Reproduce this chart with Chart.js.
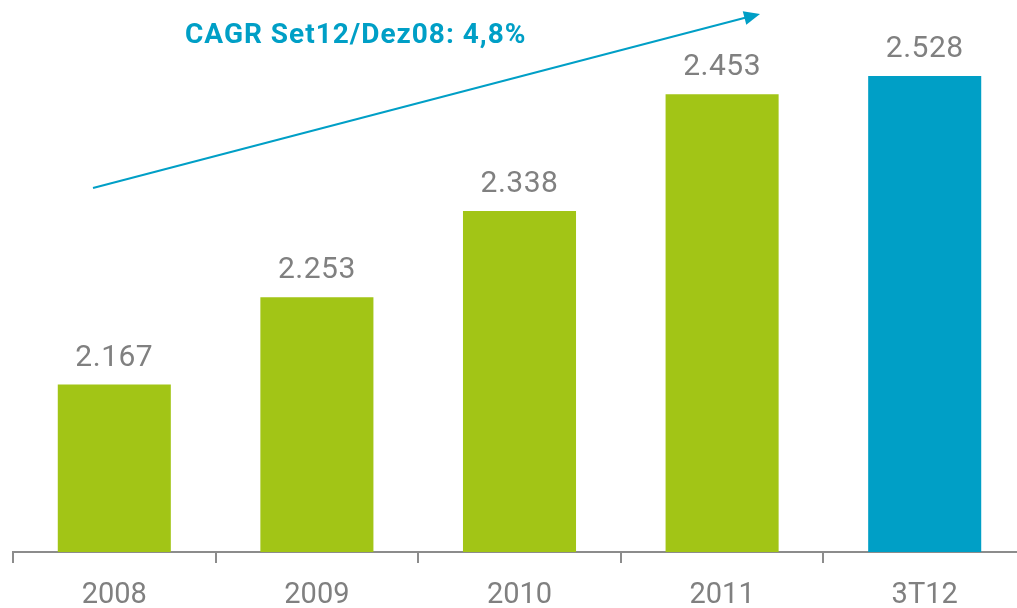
<!DOCTYPE html>
<html>
<head>
<meta charset="utf-8">
<script src="https://cdn.jsdelivr.net/npm/chart.js@4"></script>
<style>
  html, body { margin: 0; padding: 0; background: #fff; overflow: hidden; }
  #wrap { position: relative; width: 1026px; height: 608px; }
</style>
</head>
<body>
<div id="wrap"><canvas id="myChart"></canvas></div>
<script>
// categorias e valores
const categorias = ['2008', '2009', '2010', '2011', '3T12'];
const rotulos = ['2.167', '2.253', '2.338', '2.453', '2.528'];
// altura das barras como aparecem na figura (a de 3T12 está desenhada mais baixa que o rótulo)
const alturas = [2.167, 2.253, 2.338, 2.453, 2.471];
const cores = ['#a2c516', '#a2c516', '#a2c516', '#a2c516', '#009fc6'];
const titulo = 'CAGR Set12/Dez08: 4,8%';

const cinza = '#808080';
const azul = '#009fc6';

// rótulos em cima das barras
const rotulosPlugin = {
  id: 'rotulos',
  afterDatasetsDraw(chart) {
    const ctx = chart.ctx;
    const meta = chart.getDatasetMeta(0);
    ctx.save();
    ctx.font = '30px Roboto';
    ctx.letterSpacing = '0.5px';
    ctx.fillStyle = cinza;
    ctx.textAlign = 'center';
    ctx.textBaseline = 'alphabetic';
    meta.data.forEach((bar, i) => {
      ctx.fillText(rotulos[i], bar.x, bar.y - 19);
    });
    ctx.restore();
  }
};

// seta do CAGR + texto
const setaPlugin = {
  id: 'seta',
  afterDraw(chart) {
    const ctx = chart.ctx;
    ctx.save();
    ctx.strokeStyle = azul;
    ctx.fillStyle = azul;
    ctx.lineWidth = 2;
    const x1 = 93, y1 = 188, x2 = 748, y2 = 17;
    ctx.beginPath();
    ctx.moveTo(x1, y1);
    ctx.lineTo(x2, y2);
    ctx.stroke();
    // ponta
    const ang = Math.atan2(y2 - y1, x2 - x1);
    const tipX = 760, tipY = 14;
    ctx.beginPath();
    ctx.moveTo(tipX, tipY);
    ctx.lineTo(tipX - 16 * Math.cos(ang) + 7 * Math.sin(ang), tipY - 16 * Math.sin(ang) - 7 * Math.cos(ang));
    ctx.lineTo(tipX - 16 * Math.cos(ang) - 7 * Math.sin(ang), tipY - 16 * Math.sin(ang) + 7 * Math.cos(ang));
    ctx.closePath();
    ctx.fill();

    ctx.font = 'bold 28px Roboto';
    ctx.letterSpacing = '1px';
    ctx.textAlign = 'left';
    ctx.textBaseline = 'alphabetic';
    ctx.fillText(titulo, 185, 43);
    ctx.restore();
  }
};

const ctx = document.getElementById('myChart');

const dataset = {
  labels: categorias,
  datasets: [{
    data: alturas,
    backgroundColor: cores,
    borderWidth: 0,
    categoryPercentage: 1,
    barPercentage: 0.558
  }]
};

const config = {
  type: 'bar',
  data: dataset,
  options: {
    responsive: true,
    maintainAspectRatio: false,
    animation: false,
    layout: { padding: { left: 13, right: 0, top: 0, bottom: 0 } },
    plugins: {
      legend: { display: false },
      tooltip: { enabled: false }
    },
    scales: {
      x: {
        afterFit: (scale) => { scale.height = 56; },
        border: { display: true, color: '#8c8c8c', width: 2 },
        grid: {
          display: true,
          drawOnChartArea: false,
          drawTicks: true,
          tickLength: 11,
          color: '#8c8c8c',
          lineWidth: 2,
          offset: true
        },
        ticks: {
          color: cinza,
          font: { family: 'Roboto', size: 29 },
          padding: 15,
          maxRotation: 0
        }
      },
      y: {
        display: false,
        min: 2.002,
        max: 2.546
      }
    }
  },
  plugins: [rotulosPlugin, setaPlugin]
};

const chart = new Chart(ctx, config);
</script>
</body>
</html>
